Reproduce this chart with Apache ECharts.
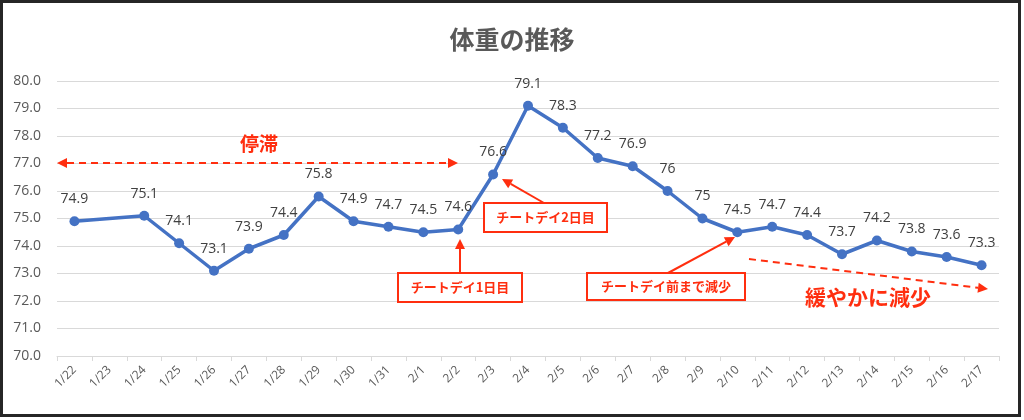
<!DOCTYPE html>
<html><head><meta charset="utf-8">
<script src="https://cdn.jsdelivr.net/npm/echarts@6/dist/echarts.min.js"></script>
<style>html,body{margin:0;padding:0;background:#fff}#c{width:1024px;height:420px}</style>
</head><body><div id="c"></div>
<script>
const titleText = '体重の推移';
const categories = ['1/22','1/23','1/24','1/25','1/26','1/27','1/28','1/29','1/30','1/31','2/1','2/2','2/3','2/4','2/5','2/6','2/7','2/8','2/9','2/10','2/11','2/12','2/13','2/14','2/15','2/16','2/17'];
const weights = [74.9,null,75.1,74.1,73.1,73.9,74.4,75.8,74.9,74.7,74.5,74.6,76.6,79.1,78.3,77.2,76.9,76,75,74.5,74.7,74.4,73.7,74.2,73.8,73.6,73.3];
const yMin = 70, yMax = 80, yStep = 1;

const RED = '#FF2E0F';
const FONT = '"Noto Sans CJK JP","Noto Sans",sans-serif';

function arrow(x1,y1,x2,y2,opts){
  opts = opts||{};
  const els=[];
  const head=opts.head||10, hw=opts.hw||5;
  const mk=(ax,ay,bx,by)=>{
    const dx=bx-ax, dy=by-ay, L=Math.hypot(dx,dy), ux=dx/L, uy=dy/L;
    const px=-uy, py=ux;
    const baseX=bx-ux*head, baseY=by-uy*head;
    els.push({type:'polygon',shape:{points:[[bx,by],[baseX+px*hw,baseY+py*hw],[baseX-px*hw,baseY-py*hw]]},style:{fill:RED},z:100});
    return [baseX,baseY];
  };
  let sx=x1, sy=y1, ex=x2, ey=y2;
  const e=mk(x1,y1,x2,y2); ex=e[0]; ey=e[1];
  if(opts.both){ const s=mk(x2,y2,x1,y1); sx=s[0]; sy=s[1]; }
  els.push({type:'line',shape:{x1:sx,y1:sy,x2:ex,y2:ey},style:{stroke:RED,lineWidth:2,lineDash:opts.dash?[7,5]:null},z:99});
  return els;
}
function box(x,y,w,h,text){
  return [
    {type:'rect',shape:{x:x,y:y,width:w,height:h},style:{fill:'#fff',stroke:RED,lineWidth:2},z:101},
    {type:'text',x:x+w/2,y:y+h/2,style:{text:text,fill:RED,font:'bold 13px '+FONT,align:'center',verticalAlign:'middle'},z:102}
  ];
}

const graphics = [].concat(
  [{type:'rect',shape:{x:1.5,y:1.5,width:1018,height:414},style:{fill:null,stroke:'#262626',lineWidth:3},z:200}],
  arrow(57,163,458,163,{dash:true,both:true}),
  [{type:'text',x:259,y:144,style:{text:'停滞',fill:RED,font:'bold 19px '+FONT,align:'center',verticalAlign:'middle'},z:102}],
  arrow(460,273,460,239,{}),
  box(398,273,124,29,'チートデイ1日目'),
  arrow(544,203,502,179,{}),
  box(484,203,123,29,'チートデイ2日目'),
  arrow(668,273,735,237,{}),
  box(587,273,158,27,'チートデイ前まで減少'),
  arrow(749,259,988,289,{dash:true}),
  [{type:'text',x:868,y:297,style:{text:'緩やかに減少',fill:RED,font:'bold 21px '+FONT,align:'center',verticalAlign:'middle'},z:102}]
);

const chart = echarts.init(document.getElementById('c'), null, {renderer:'canvas'});
chart.setOption({
  animation:false,
  backgroundColor:'#fff',
  title:{text:titleText,left:'center',top:22,textStyle:{fontFamily:FONT,fontSize:25,fontWeight:'bold',color:'#595959'}},
  grid:{left:57,right:25,top:81,bottom:64,containLabel:false},
  xAxis:{type:'category',data:categories,boundaryGap:true,
    axisLine:{lineStyle:{color:'#d9d9d9',width:1}},
    axisTick:{show:true,length:5,lineStyle:{color:'#d9d9d9'}},
    axisLabel:{rotate:45,fontSize:12,color:'#595959',fontFamily:'"Open Sans","Noto Sans",sans-serif',margin:12,interval:0}},
  yAxis:{type:'value',min:yMin,max:yMax,interval:yStep,
    axisLine:{show:false},axisTick:{show:false},
    splitLine:{lineStyle:{color:'#d9d9d9',width:1}},
    axisLabel:{fontSize:14,color:'#595959',fontFamily:'"Open Sans","Noto Sans",sans-serif',margin:16,formatter:v=>v.toFixed(1)}},
  series:[{type:'line',data:weights,connectNulls:true,
    lineStyle:{color:'#4472C4',width:3.5},
    itemStyle:{color:'#4472C4'},
    symbol:'circle',symbolSize:10,
    label:{show:true,position:'top',distance:10,fontSize:14,color:'#404040',fontFamily:'"Open Sans","Noto Sans",sans-serif'}}],
  graphic:graphics
});
</script></body></html>
